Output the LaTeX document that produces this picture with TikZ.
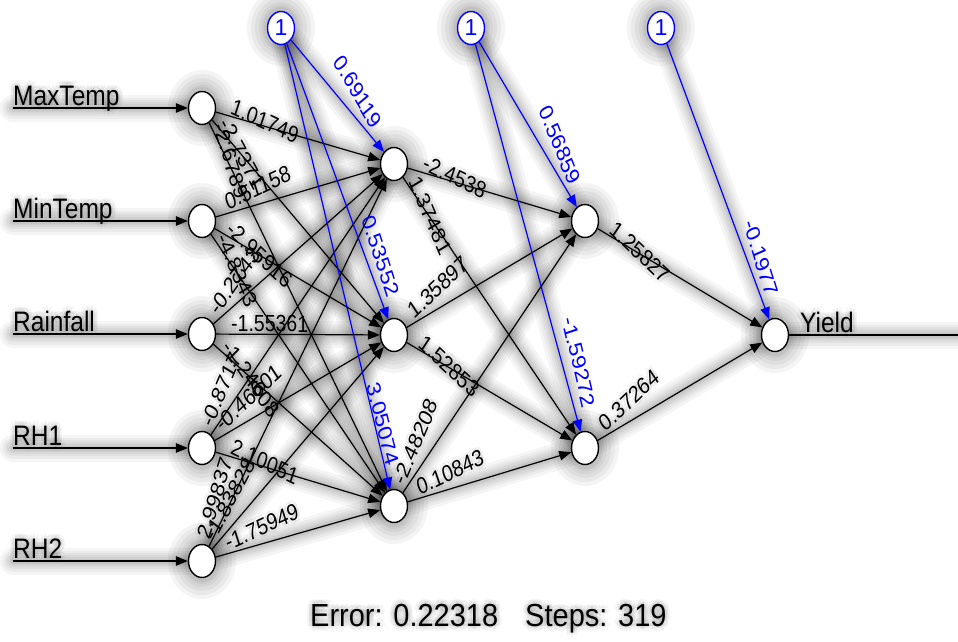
\documentclass[tikz,border=0pt]{standalone}
\usepackage{fontspec}
\setmainfont{Liberation Sans}
\usetikzlibrary{shapes.geometric,arrows.meta,calc}
\pgfdeclarelayer{halo}
\pgfdeclarelayer{bg}
\pgfsetlayers{halo,bg,main}
\newcommand\wlcore[4]{%
  \path let \p1=(#1), \p2=(#2),
    \n1={atan2(\y2-\y1,\x2-\x1)},
    \n2={580/sqrt(400*pow(cos(\n1),2)+841*pow(sin(\n1),2))},
    \n3={atan2(1.3333*(\y2-\y1),\x2-\x1)} in
    node[wlab, yscale=1.2, rotate=\n3, #4] at ($(#1)!\n2!(#2)$) {#3};}
\newcommand\wl[3]{%
  \wlcore{#1}{#2}{#3}{}%
  \begin{pgfonlayer}{halo}
  \foreach \a in {0,60,...,300} {\wlcore{#1}{#2}{#3}{text=black, opacity=0.04, shift={(\a:3)}}}
  \end{pgfonlayer}}
\newcommand\txh[3]{%
  \begin{pgfonlayer}{halo}
  \foreach \r in {2.5,5} {\foreach \a in {0,45,...,315}
    {\node[#1, text=black, opacity=0.035] at ($(#2)+(\a:\r)$) {#3};}}
  \end{pgfonlayer}}
\newcommand\hl[2]{%
  \begin{pgfonlayer}{halo}
  \foreach \w in {27,21,16,12,8,5}
    \draw[line width=\w pt, black, opacity=0.04, line cap=round] (#1) -- (#2);
  \end{pgfonlayer}}
\newcommand\nh[1]{%
  \begin{pgfonlayer}{halo}
  \foreach \a/\b in {34/38,30/34,26/30,22/26,19/23,17/21}
    \fill[black, opacity=0.045] (#1) ellipse (\a pt and \b pt);
  \end{pgfonlayer}}
\tikzset{
  neuron/.style={ellipse, draw=black, fill=white, line width=1.4pt,
    minimum width=27pt, minimum height=33pt, inner sep=0pt},
  biasn/.style={neuron, draw=blue, text=blue, font=\fontsize{23}{23}\selectfont},
  syn/.style={line width=1.2pt, black, -{Triangle[length=12pt,width=9.5pt]}},
  bsyn/.style={syn, blue},
  wlab/.style={font=\fontsize{19.5}{20}\selectfont, inner xsep=0pt,
    inner ysep=1.8pt, anchor=south west},
  blab/.style={font=\fontsize{19.5}{20}\selectfont, text=blue, inner sep=0pt},
  iolab/.style={font=\fontsize{24.5}{26}\selectfont, inner sep=0pt, anchor=base west, yscale=1.15},
  errlab/.style={font=\fontsize{29}{30}\selectfont, inner sep=0pt, anchor=base west, yscale=1.1},
}
\begin{document}
\begin{tikzpicture}[x=1pt,y=-1pt]
\useasboundingbox (0,0) rectangle (958,641);
\begin{pgfonlayer}{halo}
\fill[white] (0,0) rectangle (958,641);
\end{pgfonlayer}
% nodes
\node[neuron] (I1) at (202,108) {};
\node[neuron] (I2) at (202,221) {};
\node[neuron] (I3) at (202,334) {};
\node[neuron] (I4) at (202,448) {};
\node[neuron] (I5) at (202,561) {};
\node[neuron] (H1) at (394,164) {};
\node[neuron] (H2) at (394,335) {};
\node[neuron] (H3) at (394,506) {};
\node[neuron] (O1) at (585,221) {};
\node[neuron] (O2) at (585,448) {};
\node[neuron] (Y) at (775,335) {};
\node[biasn] (B1) at (281,28) {1};
\node[biasn] (B2) at (471,28) {1};
\node[biasn] (B3) at (661,28) {1};
\foreach \n in {I1,I2,I3,I4,I5,H1,H2,H3,O1,O2,Y,B1,B2,B3} {\nh{\n}}
% input / output
\coordinate (in1) at (13,108);
\coordinate (in2) at (13,221);
\coordinate (in3) at (13,334);
\coordinate (in4) at (13,448);
\coordinate (in5) at (13,561);
\coordinate (out) at (958,335);
\node[iolab] (t1) at (13,105) {MaxTemp};
\node[iolab] (t2) at (13,218) {MinTemp};
\node[iolab] (t3) at (13,331) {Rainfall};
\node[iolab] (t4) at (13,445) {RH1};
\node[iolab] (t5) at (13,558) {RH2};
\node[iolab] (ty) at (800,332) {Yield};
\txh{iolab}{13,105}{MaxTemp}
\txh{iolab}{13,218}{MinTemp}
\txh{iolab}{13,331}{Rainfall}
\txh{iolab}{13,445}{RH1}
\txh{iolab}{13,558}{RH2}
\txh{iolab}{800,332}{Yield}
\begin{pgfonlayer}{bg}
\foreach \i in {1,...,5} {\draw[syn] (in\i) -- (I\i);}
\draw[line width=1.2pt] (Y) -- (out);
\foreach \i in {1,...,5} {\foreach \j in {1,2,3} {\draw[syn] (I\i) -- (H\j);}}
\foreach \i in {1,2,3} {\foreach \j in {1,2} {\draw[syn] (H\i) -- (O\j);}}
\foreach \j in {1,2} {\draw[syn] (O\j) -- (Y);}
\foreach \j in {1,2,3} {\draw[bsyn] (B1) -- (H\j);}
\foreach \j in {1,2} {\draw[bsyn] (B2) -- (O\j);}
\draw[bsyn] (B3) -- (Y);
\end{pgfonlayer}
% halos of connectors
\foreach \i in {1,...,5} {\hl{in\i}{I\i}}
\hl{Y}{out}
\foreach \i in {1,...,5} {\foreach \j in {1,2,3} {\hl{I\i}{H\j}}}
\foreach \i in {1,2,3} {\foreach \j in {1,2} {\hl{H\i}{O\j}}}
\foreach \j in {1,2} {\hl{O\j}{Y}}
\foreach \j in {1,2,3} {\hl{B1}{H\j}}
\foreach \j in {1,2} {\hl{B2}{O\j}}
\hl{B3}{Y}
% weights
\wl{I1}{H1}{1.01749}
\wl{I1}{H2}{-2.7371}
\wl{I1}{H3}{-2.6789}
\wl{I2}{H1}{0.51158}
\wl{I2}{H2}{-2.95916}
\wl{I2}{H3}{-4.8343}
\wl{I3}{H1}{-0.2743}
\wl{I3}{H2}{-1.55361}
\wl{I3}{H3}{-1.24608}
\wl{I4}{H1}{-0.8717}
\wl{I4}{H2}{-0.46601}
\wl{I4}{H3}{2.10051}
\wl{I5}{H1}{2.99837}
\wl{I5}{H2}{-1.83828}
\wl{I5}{H3}{-1.75949}
\wl{H1}{O1}{-2.4538}
\wl{H1}{O2}{1.37481}
\wl{H2}{O1}{1.35897}
\wl{H2}{O2}{1.52853}
\wl{H3}{O1}{-2.48208}
\wl{H3}{O2}{0.10843}
\wl{O1}{Y}{1.25827}
\wl{O2}{Y}{0.37264}
% bias weights
\node[blab, yscale=1.2, rotate=-55.3] (bw1) at (358,92) {0.69119};
\node[blab, yscale=1.2, rotate=-68.7] (bw2) at (381,256) {0.53552};
\node[blab, yscale=1.2, rotate=-73.3] (bw3) at (383,424) {3.05074};
\node[blab, yscale=1.2, rotate=-64.1] (bw4) at (560,145) {0.56859};
\node[blab, yscale=1.2, rotate=-74.5] (bw5) at (579,362) {-1.59272};
\node[blab, yscale=1.2, rotate=-69.9] (bw6) at (761,258) {-0.1977};
% info
\node[errlab] (err) at (310,626) {Error: 0.22318\hspace{27pt}Steps: 319};
\txh{errlab}{310,626}{Error: 0.22318\hspace{27pt}Steps: 319}
\end{tikzpicture}
\end{document}
